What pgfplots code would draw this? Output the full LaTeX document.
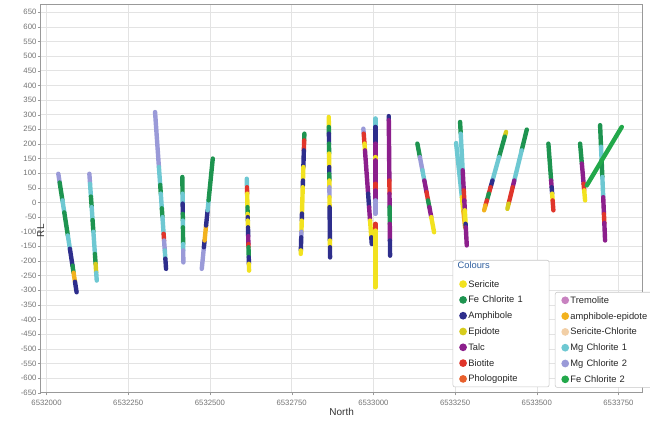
\documentclass[border=0pt]{standalone}
\usepackage{pgfplots}
\pgfplotsset{compat=1.18}
\usepackage{fontspec}
\setmainfont{Liberation Sans}
\definecolor{cSer}{HTML}{F2E21F}
\definecolor{cFe1}{HTML}{1E9450}
\definecolor{cAmp}{HTML}{2E2E8C}
\definecolor{cEpi}{HTML}{D6CC1E}
\definecolor{cTalc}{HTML}{8C1F8C}
\definecolor{cBio}{HTML}{E0352B}
\definecolor{cPhl}{HTML}{E8602C}
\definecolor{cTre}{HTML}{C882C0}
\definecolor{cAE}{HTML}{F2B21E}
\definecolor{cSC}{HTML}{F2CFA6}
\definecolor{cMg1}{HTML}{6EC8D2}
\definecolor{cMg2}{HTML}{9A9AD8}
\definecolor{cFe2}{HTML}{22A84A}
\definecolor{cTitle}{HTML}{2F5F9F}
\pgfplotsset{
 hole/.style={line width=3.3pt, line cap=round},
 ser/.style={hole, color=cSer}, fe1/.style={hole, color=cFe1}, amp/.style={hole, color=cAmp},
 epi/.style={hole, color=cEpi}, talc/.style={hole, color=cTalc}, bio/.style={hole, color=cBio},
 ae/.style={hole, color=cAE}, mg1/.style={hole, color=cMg1}, mg2/.style={hole, color=cMg2},
 fe2/.style={hole, color=cFe2},
 frame/.style={
  scale only axis, width=451.5pt, height=291.5pt,
  at={(0,0)}, anchor=south west,
  xmin=-18, xmax=1824, ymin=-650, ymax=678,
 },
 lgd/.style={
  legend cell align=left,
  legend image code/.code={\fill[##1, draw=none] (3pt,0pt) circle (2.9pt);},
  legend style={anchor=north west, draw=black!22, fill=white, rounded corners=1.5pt,
   inner xsep=4.6pt, inner ysep=1.3pt, font=\fontsize{7}{8}\selectfont, text=black!85,
   row sep=2.35pt,
   nodes={inner sep=1pt, text height=6pt, text depth=1.5pt, text width=#1, align=left},
   /tikz/every even column/.append style={column sep=2.1pt}},
 },
}
\begin{document}
\begin{tikzpicture}
\begin{axis}[frame, lgd=55pt,
 legend style={at={(0.6844,0.3414)}},
 xtick={0,250,500,750,1000,1250,1500,1750},
 xticklabels={6532000,6532250,6532500,6532750,6533000,6533250,6533500,6533750},
 ytick={-650,-600,...,650},
 /pgf/number format/assume math mode=true,
 ticklabel style={font=\fontsize{5.8}{6}\selectfont, text=black!55},
 xticklabel style={anchor=center, yshift=-5.5pt},
 yticklabel style={inner xsep=1pt},
 tick pos=left, tick align=outside, major tick length=2pt,
 tick style={black!40}, axis line style={black!40},
 grid=major, grid style={black!11},
 xlabel={North}, ylabel={RL},
 every axis x label/.style={at={(axis description cs:0.5,0)}, anchor=center, yshift=-14.3pt, font=\fontsize{7.5}{8}\selectfont, text=black!80},
 every axis y label/.style={at={(axis description cs:0,0.5)}, rotate=90, anchor=center, xshift=-24.3pt, font=\fontsize{7.5}{8}\selectfont, text=black!80},
]
\addlegendimage{legend image code/.code={\node[overlay, anchor=west, inner sep=0pt, text width=50pt, text=cTitle] at (-1.3pt,2.3pt) {Colours};}}
\addlegendentry{\phantom{C}}
\addlegendimage{cSer}\addlegendentry{Sericite}
\addlegendimage{cFe1}\addlegendentry{Fe Chlorite 1}
\addlegendimage{cAmp}\addlegendentry{Amphibole}
\addlegendimage{cEpi}\addlegendentry{Epidote}
\addlegendimage{cTalc}\addlegendentry{Talc}
\addlegendimage{cBio}\addlegendentry{Biotite}
\addlegendimage{cPhl}\addlegendentry{Phologopite}
% Hole A
\addplot[mg2] coordinates {(36,98) (40.1,68)};
\addplot[fe1] coordinates {(40.1,68) (48.6,7)};
\addplot[mg1] coordinates {(48.6,7) (54.3,-34)};
\addplot[fe1] coordinates {(54.3,-34) (65.2,-113)};
\addplot[mg1] coordinates {(65.2,-113) (71.4,-158)};
\addplot[amp] coordinates {(71.4,-158) (79.4,-216)};
\addplot[fe1] coordinates {(79.4,-216) (82.7,-240)};
\addplot[ae] coordinates {(82.7,-240) (87.0,-271)};
\addplot[amp] coordinates {(87.0,-271) (92,-307)};
% Hole B
\addplot[mg2] coordinates {(131,98) (133.1,64)};
\addplot[mg1] coordinates {(133.1,64) (135.8,20)};
\addplot[fe1] coordinates {(135.8,20) (138.1,-16)};
\addplot[mg1] coordinates {(138.1,-16) (140.8,-60)};
\addplot[fe1] coordinates {(140.8,-60) (143.3,-100)};
\addplot[mg1] coordinates {(143.3,-100) (148.0,-176)};
\addplot[fe1] coordinates {(148.0,-176) (150.1,-210)};
\addplot[epi] coordinates {(150.1,-210) (151.9,-240)};
\addplot[mg1] coordinates {(151.9,-240) (153.6,-267)};
% Hole C
\addplot[mg2] coordinates {(332,309) (343.8,121)};
\addplot[mg1] coordinates {(343.8,121) (347.7,60)};
\addplot[fe1] coordinates {(347.7,60) (349.6,30)};
\addplot[mg1] coordinates {(349.6,30) (352.7,-20)};
\addplot[fe1] coordinates {(352.7,-20) (354.6,-50)};
\addplot[mg1] coordinates {(354.6,-50) (358.2,-107)};
\addplot[bio] coordinates {(358.2,-107) (359.6,-130)};
\addplot[mg2] coordinates {(359.6,-130) (361.8,-164)};
\addplot[mg1] coordinates {(361.8,-164) (363.5,-192)};
\addplot[amp] coordinates {(363.5,-192) (365.7,-227)};
% Hole D
\addplot[fe1] coordinates {(415.5,87) (416.1,30)};
\addplot[mg1] coordinates {(416.1,30) (416.5,-4)};
\addplot[amp] coordinates {(416.5,-4) (416.8,-39)};
\addplot[fe1] coordinates {(416.8,-39) (417.1,-62)};
\addplot[mg1] coordinates {(417.1,-62) (417.3,-85)};
\addplot[fe1] coordinates {(417.3,-85) (417.9,-142)};
\addplot[mg1] coordinates {(417.9,-142) (418.2,-164)};
\addplot[mg2] coordinates {(418.2,-164) (418.6,-205)};
% Hole E
\addplot[mg2] coordinates {(474.9,-227) (481.5,-153)};
\addplot[amp] coordinates {(481.5,-153) (483.6,-130)};
\addplot[ae] coordinates {(483.6,-130) (488.1,-79)};
\addplot[amp] coordinates {(488.1,-79) (492.8,-27)};
\addplot[mg1] coordinates {(492.8,-27) (495.8,7)};
\addplot[fe1] coordinates {(495.8,7) (508.6,150)};
% Hole F
\addplot[mg1] coordinates {(612.6,81) (613.3,52)};
\addplot[bio] coordinates {(613.3,52) (613.8,30)};
\addplot[ser] coordinates {(613.8,30) (614.8,-16)};
\addplot[fe1] coordinates {(614.8,-16) (615.3,-39)};
\addplot[ser] coordinates {(615.3,-39) (615.6,-50)};
\addplot[amp] coordinates {(615.6,-50) (615.8,-62)};
\addplot[ser] coordinates {(615.8,-62) (616.4,-85)};
\addplot[amp] coordinates {(616.4,-85) (617.0,-115)};
\addplot[talc] coordinates {(617.0,-115) (617.6,-142)};
\addplot[bio] coordinates {(617.6,-142) (617.9,-153)};
\addplot[fe1] coordinates {(617.9,-153) (618.7,-187)};
\addplot[amp] coordinates {(618.7,-187) (619.2,-210)};
\addplot[ser] coordinates {(619.2,-210) (619.7,-233)};
% Hole G
\addplot[fe1] coordinates {(788.9,235) (788.3,212)};
\addplot[bio] coordinates {(788.3,212) (787.3,178)};
\addplot[amp] coordinates {(787.3,178) (785.8,121)};
\addplot[ser] coordinates {(785.8,121) (784.6,75)};
\addplot[amp] coordinates {(784.6,75) (783.9,52)};
\addplot[ser] coordinates {(783.9,52) (781.5,-38)};
\addplot[amp] coordinates {(781.5,-38) (780.9,-62)};
\addplot[ser] coordinates {(780.9,-62) (779.8,-100)};
\addplot[mg2] coordinates {(779.8,-100) (779.3,-119)};
\addplot[amp] coordinates {(779.3,-119) (778.1,-164)};
\addplot[ser] coordinates {(778.1,-164) (777.8,-176)};
% Hole H
\addplot[ser] coordinates {(863.5,292) (863.8,258)};
\addplot[fe1] coordinates {(863.8,258) (864.0,235)};
\addplot[amp] coordinates {(864.0,235) (864.3,201)};
\addplot[fe1] coordinates {(864.3,201) (864.5,167)};
\addplot[ser] coordinates {(864.5,167) (864.9,121)};
\addplot[amp] coordinates {(864.9,121) (865.1,98)};
\addplot[fe1] coordinates {(865.1,98) (865.3,75)};
\addplot[ser] coordinates {(865.3,75) (865.5,52)};
\addplot[mg2] coordinates {(865.5,52) (865.7,18)};
\addplot[ser] coordinates {(865.7,18) (866.0,-16)};
\addplot[amp] coordinates {(866.0,-16) (867.0,-130)};
\addplot[ser] coordinates {(867.0,-130) (867.2,-153)};
\addplot[amp] coordinates {(867.2,-153) (867.5,-188)};
% Hole I
\addplot[mg2] coordinates {(969.4,252) (970.5,235)};
\addplot[bio] coordinates {(970.5,235) (972.8,201)};
\addplot[ser] coordinates {(972.8,201) (974.3,178)};
\addplot[talc] coordinates {(974.3,178) (983.9,30)};
\addplot[amp] coordinates {(983.9,30) (986.9,-16)};
\addplot[talc] coordinates {(986.9,-16) (989.9,-62)};
\addplot[ser] coordinates {(989.9,-62) (993.6,-119)};
\addplot[amp] coordinates {(993.6,-119) (995.1,-142)};
% Hole J
\addplot[mg1] coordinates {(1006,287) (1006,258)};
\addplot[amp] coordinates {(1006,258) (1006,201)};
\addplot[talc] coordinates {(1006,201) (1006,155)};
\addplot[ser] coordinates {(1006,155) (1006,144)};
\addplot[talc] coordinates {(1006,144) (1006,64)};
\addplot[bio] coordinates {(1006,64) (1006,41)};
\addplot[talc] coordinates {(1006,41) (1006,7)};
\addplot[mg2] coordinates {(1006,7) (1006,-39)};
\addplot[bio] coordinates {(1006,-73) (1006,-96)};
\addplot[ser] coordinates {(1006,-96) (1006,-290)};
% Hole K
\addplot[amp] coordinates {(1047.1,295) (1047.2,281)};
\addplot[talc] coordinates {(1047.2,281) (1049.0,75)};
\addplot[bio] coordinates {(1049.0,75) (1049.4,30)};
\addplot[talc] coordinates {(1049.4,30) (1049.7,-16)};
\addplot[fe1] coordinates {(1049.7,-16) (1050.2,-73)};
\addplot[talc] coordinates {(1050.2,-73) (1050.7,-130)};
\addplot[amp] coordinates {(1050.7,-130) (1051.1,-182)};
% Hole L
\addplot[fe1] coordinates {(1134.6,201) (1142.4,155)};
\addplot[mg2] coordinates {(1142.4,155) (1150.0,110)};
\addplot[mg1] coordinates {(1150.0,110) (1155.9,75)};
\addplot[talc] coordinates {(1155.9,75) (1162.7,35)};
\addplot[bio] coordinates {(1162.7,35) (1167.4,7)};
\addplot[fe1] coordinates {(1167.4,7) (1171.3,-16)};
\addplot[talc] coordinates {(1171.3,-16) (1177.1,-50)};
\addplot[ser] coordinates {(1177.1,-50) (1185.8,-102)};
% Hole M2
\addplot[mg1] coordinates {(1253.1,203) (1270.8,18)};
\addplot[ser] coordinates {(1270.8,18) (1275.4,-30)};
\addplot[ae] coordinates {(1275.4,-30) (1280.6,-85)};
% Hole M
\addplot[fe1] coordinates {(1265.3,275) (1267.3,235)};
\addplot[mg1] coordinates {(1267.3,235) (1273.3,110)};
\addplot[talc] coordinates {(1273.3,110) (1276.6,41)};
\addplot[bio] coordinates {(1276.6,41) (1278.3,7)};
\addplot[talc] coordinates {(1278.3,7) (1279.9,-27)};
\addplot[ser] coordinates {(1279.9,-27) (1282.2,-73)};
\addplot[amp] coordinates {(1282.2,-73) (1282.8,-85)};
\addplot[talc] coordinates {(1282.8,-85) (1285.8,-147)};
% Hole N
\addplot[epi] coordinates {(1406.1,241) (1402.1,225)};
\addplot[fe1] coordinates {(1402.1,225) (1384.5,155)};
\addplot[mg1] coordinates {(1384.5,155) (1364.5,75)};
\addplot[amp] coordinates {(1364.5,75) (1358.7,52)};
\addplot[bio] coordinates {(1358.7,52) (1353.2,30)};
\addplot[fe1] coordinates {(1353.2,30) (1347.4,7)};
\addplot[bio] coordinates {(1347.4,7) (1343.1,-10)};
\addplot[ae] coordinates {(1343.1,-10) (1338.8,-27)};
% Hole O
\addplot[fe1] coordinates {(1469.4,249) (1453.8,178)};
\addplot[mg1] coordinates {(1453.8,178) (1431.2,75)};
\addplot[talc] coordinates {(1431.2,75) (1426.2,52)};
\addplot[bio] coordinates {(1426.2,52) (1413.9,-4)};
\addplot[epi] coordinates {(1413.9,-4) (1410.0,-22)};
% Hole P
\addplot[fe1] coordinates {(1535.5,201) (1543.9,75)};
\addplot[talc] coordinates {(1543.9,75) (1545.5,52)};
\addplot[amp] coordinates {(1545.5,52) (1547.0,30)};
\addplot[ser] coordinates {(1547.0,30) (1548.5,7)};
\addplot[bio] coordinates {(1548.5,7) (1550.8,-27)};
% Hole Q
\addplot[fe1] coordinates {(1632.5,201) (1637.9,133)};
\addplot[talc] coordinates {(1637.9,133) (1643.3,64)};
\addplot[bio] coordinates {(1643.3,64) (1645.1,41)};
\addplot[ser] coordinates {(1645.1,41) (1647.8,7)};
% Hole R
\addplot[fe1] coordinates {(1693.7,264) (1696.6,190)};
\addplot[mg1] coordinates {(1696.6,190) (1698.4,144)};
\addplot[fe1] coordinates {(1698.4,144) (1700.6,87)};
\addplot[mg1] coordinates {(1700.6,87) (1703.3,18)};
\addplot[talc] coordinates {(1703.3,18) (1705.5,-40)};
\addplot[bio] coordinates {(1705.5,-40) (1706.7,-70)};
\addplot[talc] coordinates {(1706.7,-70) (1709.0,-130)};
% Hole S
\addplot[fe2] coordinates {(1653.0,58) (1760.1,258)};
\end{axis}
\begin{axis}[frame, hide axis, lgd=62pt,
 legend style={at={(0.8543,0.2591)}},
]
\addlegendimage{cTre}\addlegendentry{Tremolite}
\addlegendimage{cAE}\addlegendentry{amphibole-epidote}
\addlegendimage{cSC}\addlegendentry{Sericite-Chlorite}
\addlegendimage{cMg1}\addlegendentry{Mg Chlorite 1}
\addlegendimage{cMg2}\addlegendentry{Mg Chlorite 2}
\addlegendimage{cFe2}\addlegendentry{Fe Chlorite 2}
\end{axis}
\pgfresetboundingbox
\path (-30.5pt,-22pt) rectangle (457pt,294.5pt);
\end{tikzpicture}
\end{document}
